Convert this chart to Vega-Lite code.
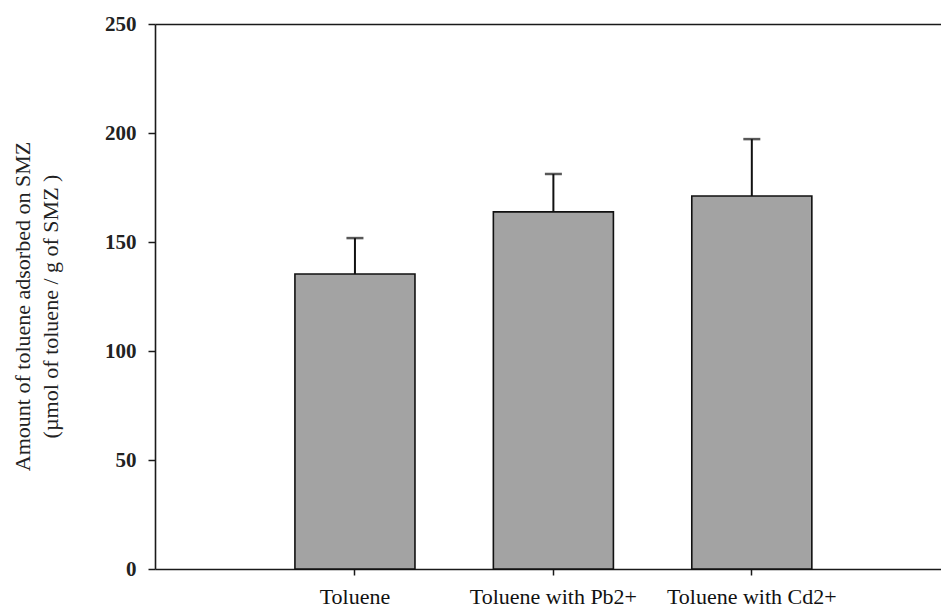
{
  "$schema": "https://vega.github.io/schema/vega-lite/v6.json",
  "autosize": {"type": "none"},
  "padding": {"left": 155, "top": 24, "right": 0, "bottom": 44},
  "width": 786,
  "height": 545,
  "background": "white",
  "config": {
    "view": {"stroke": null},
    "font": "Liberation Serif"
  },
  "data": {
    "values": [
      {"sample": "Toluene", "amount": 135.3, "upper": 151.8},
      {"sample": "Toluene with Pb2+", "amount": 163.8, "upper": 181.2},
      {"sample": "Toluene with Cd2+", "amount": 171.1, "upper": 197.2}
    ]
  },
  "resolve": {"axis": {"x": "independent"}},
  "layer": [
    {
      "mark": {"type": "bar", "color": "#a3a3a3", "stroke": "#111", "strokeWidth": 1.6},
      "encoding": {
        "x": {
          "field": "sample",
          "type": "nominal",
          "sort": null,
          "scale": {"paddingInner": 0.395, "paddingOuter": 0.678, "align": 0.52},
          "axis": {
            "orient": "bottom",
            "title": null,
            "labelAngle": 0,
            "labelFont": "Liberation Serif",
            "labelFontSize": 22,
            "labelColor": "#111",
            "labelPadding": 11,
            "tickSize": 6,
            "tickColor": "#1a1a1a",
            "tickWidth": 1.5,
            "domainColor": "#1a1a1a",
            "domainWidth": 1.6
          }
        },
        "y": {
          "field": "amount",
          "type": "quantitative",
          "scale": {"domain": [0, 250], "nice": false},
          "axis": {
            "values": [0, 50, 100, 150, 200, 250],
            "grid": false,
            "tickSize": 7,
            "tickColor": "#1a1a1a",
            "tickWidth": 1.5,
            "domainColor": "#1a1a1a",
            "domainWidth": 1.6,
            "labelFont": "Liberation Serif",
            "labelFontSize": 21,
            "labelFontWeight": "bold",
            "labelColor": "#222",
            "labelPadding": 12,
            "title": ["Amount of toluene adsorbed on SMZ", "(µmol of toluene / g of SMZ )"],
            "titleFont": "Liberation Serif",
            "titleFontSize": 22,
            "titleFontWeight": "normal",
            "titleColor": "#222",
            "titleLineHeight": 28,
            "titlePadding": 42,
            "titleY": 282
          }
        }
      }
    },
    {
      "mark": {"type": "rule", "color": "#111", "strokeWidth": 2},
      "encoding": {
        "x": {
          "field": "sample",
          "type": "nominal",
          "sort": null,
          "axis": {
            "orient": "top",
            "title": null,
            "labels": false,
            "ticks": false,
            "domain": true,
            "domainColor": "#1a1a1a",
            "domainWidth": 1.6
          }
        },
        "y": {"field": "amount", "type": "quantitative"},
        "y2": {"field": "upper"}
      }
    },
    {
      "mark": {"type": "tick", "color": "#111", "thickness": 2.5, "size": 17},
      "encoding": {
        "x": {"field": "sample", "type": "nominal", "sort": null, "axis": null},
        "y": {"field": "upper", "type": "quantitative"}
      }
    }
  ]
}
